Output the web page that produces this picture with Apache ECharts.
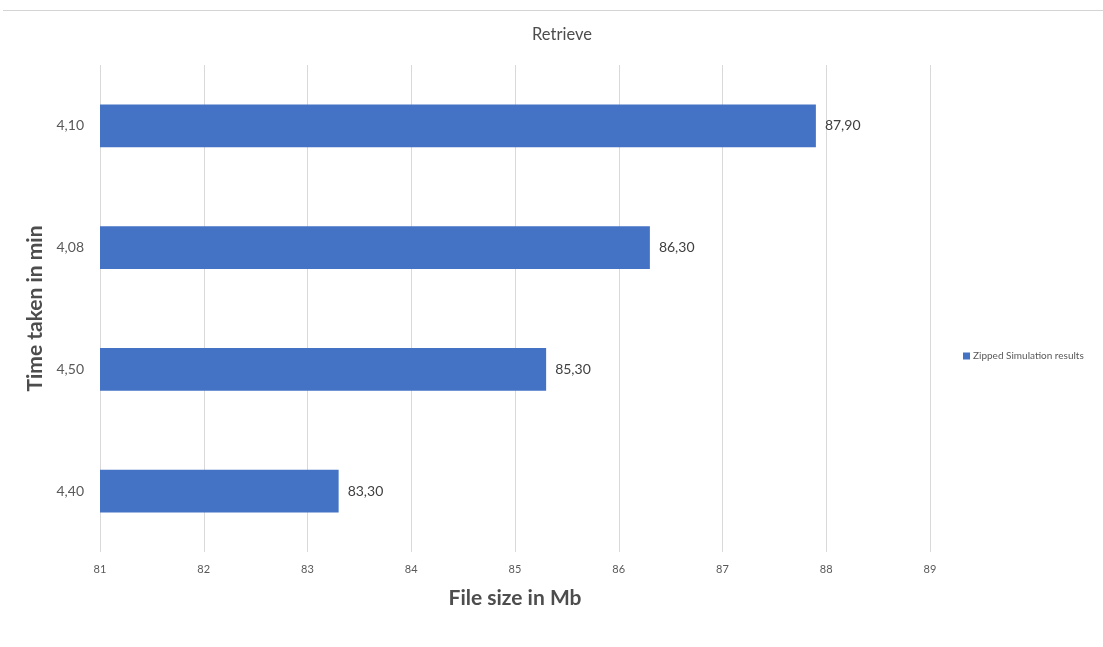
<!DOCTYPE html>
<html>
<head>
<meta charset="utf-8">
<script src="https://cdn.jsdelivr.net/npm/echarts@6/dist/echarts.min.js"></script>
<style>
  html, body { margin: 0; padding: 0; background: #fff; }
  #chart { width: 1103px; height: 647px; }
  #rule { position: absolute; left: 3px; right: 0; top: 10px; height: 1px; background: #d4d4d4; }
</style>
</head>
<body>
<div id="rule"></div>
<div id="chart"></div>
<script>
// Time taken (category, bottom to top) and file size in Mb
const categories = ['4,40', '4,50', '4,08', '4,10'];
const fileSizes = [83.3, 85.3, 86.3, 87.9];
const seriesName = 'Zipped Simulation results';
const xMin = 81, xMax = 89, xStep = 1;

const FONT = 'Lato, "Open Sans", sans-serif';
const chart = echarts.init(document.getElementById('chart'));

chart.setOption({
  animation: false,
  title: {
    text: 'Retrieve',
    left: 557, top: 21, textAlign: 'center',
    textStyle: { fontFamily: FONT, fontSize: 16.5, fontWeight: 'normal', color: '#4d4d4d' }
  },
  legend: {
    data: [seriesName],
    left: 958, top: 346,
    orient: 'vertical',
    icon: 'rect', itemWidth: 7, itemHeight: 7, itemGap: 4,
    textStyle: { fontFamily: FONT, fontSize: 10, color: '#595959', padding: [0, 0, 0, -2] }
  },
  grid: { left: 100, right: 173, top: 65, height: 487, containLabel: false },
  xAxis: {
    type: 'value',
    min: xMin, max: xMax, interval: xStep,
    name: 'File size in Mb',
    nameLocation: 'middle', nameGap: 36,
    nameTextStyle: { fontFamily: FONT, fontSize: 21, fontWeight: 'bold', color: '#4d4d4d' },
    axisLine: { show: false },
    axisTick: { show: false },
    axisLabel: { fontFamily: FONT, fontSize: 11, color: '#595959', margin: 12 },
    splitLine: { show: true, lineStyle: { color: '#d9d9d9', width: 1 } }
  },
  yAxis: {
    type: 'category',
    data: categories,
    name: 'Time taken in min',
    nameLocation: 'middle', nameGap: 49,
    nameTextStyle: { fontFamily: FONT, fontSize: 21, fontWeight: 'bold', color: '#4d4d4d' },
    axisLine: { show: false },
    axisTick: { show: false },
    axisLabel: { fontFamily: FONT, fontSize: 14, color: '#595959', margin: 16 },
    splitLine: { show: false }
  },
  series: [{
    name: seriesName,
    type: 'bar',
    data: fileSizes,
    barWidth: '35%',
    itemStyle: { color: '#4472C4' },
    label: {
      show: true, position: 'right', distance: 9,
      fontFamily: FONT, fontSize: 14, color: '#404040',
      formatter: p => p.value.toFixed(2).replace('.', ',')
    }
  }]
});
</script>
</body>
</html>
